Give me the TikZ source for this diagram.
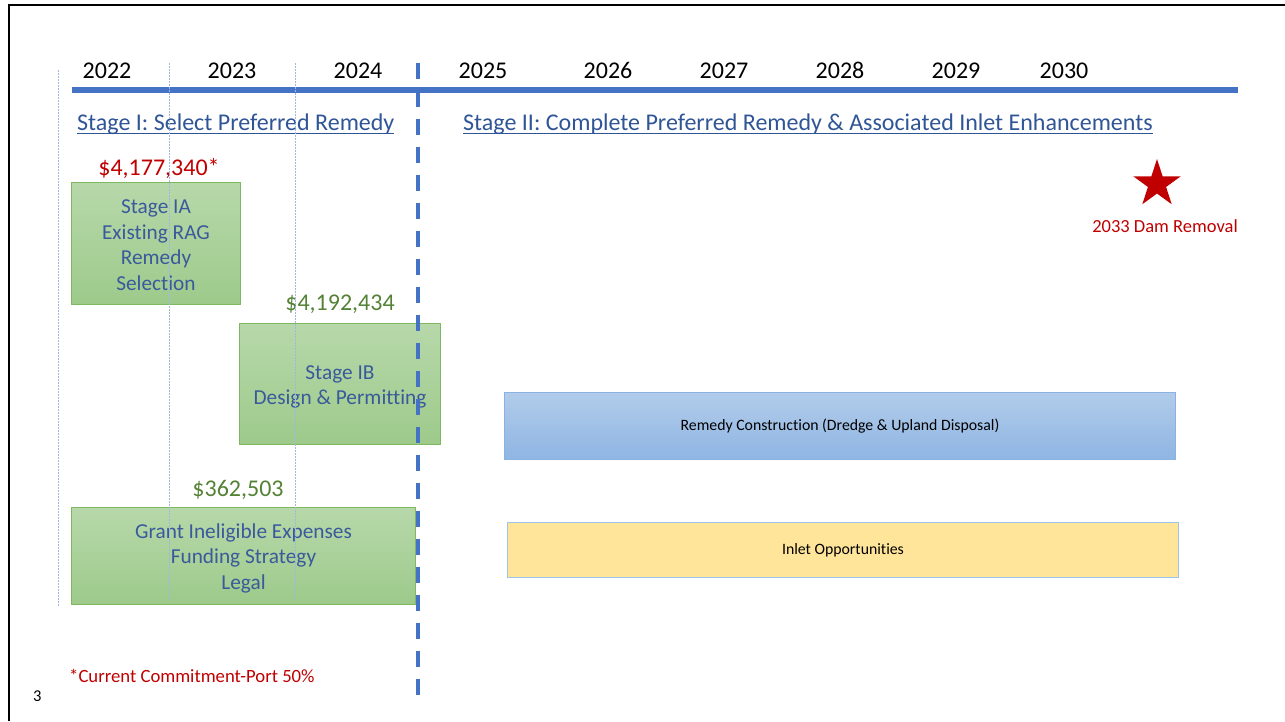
\documentclass[tikz,border=0pt]{standalone}
\usepackage{fontspec}
\setmainfont[Ligatures={NoCommon}]{Carlito}
\usetikzlibrary{shapes.geometric}
\definecolor{tblue}{HTML}{4472C4}
\definecolor{ttitle}{HTML}{2F5597}
\definecolor{tbox}{HTML}{3A5A9C}
\definecolor{tgreen}{HTML}{548235}
\definecolor{tred}{HTML}{C00000}
\definecolor{gtop}{HTML}{B7D8AA}
\definecolor{gbot}{HTML}{9DCA8B}
\definecolor{gedge}{HTML}{80B862}
\definecolor{btop}{HTML}{B1CCEA}
\definecolor{bbot}{HTML}{8FB5E3}
\definecolor{bedge}{HTML}{8AB2E0}
\definecolor{yfill}{HTML}{FFE599}
\definecolor{yedge}{HTML}{9DC3E6}
\definecolor{dotc}{HTML}{9FB7E2}
\tikzset{
  year/.style={anchor=base, inner sep=0, font=\fontsize{24}{28}\selectfont},
  stagetitle/.style={anchor=base west, inner sep=0, text=ttitle, font=\fontsize{24}{28}\selectfont},
  amount/.style={anchor=base, inner sep=0, font=\fontsize{24}{28}\selectfont},
  greenbox/.style={anchor=north west, draw=gedge, line width=1pt, top color=gtop, bottom color=gbot,
     text=tbox, align=center, inner sep=0, font=\fontsize{21.3}{25.5}\selectfont},
  bluebox/.style={anchor=north west, draw=bedge, line width=1pt, top color=btop, bottom color=bbot,
     text=black, align=center, inner sep=0, font=\fontsize{15.8}{18}\selectfont},
  yellowbox/.style={anchor=north west, draw=yedge, line width=1pt, fill=yfill,
     text=black, align=center, inner sep=0, font=\fontsize{15.8}{18}\selectfont},
  gridline/.style={draw=dotc, line width=0.8pt, dash pattern=on 2pt off 1pt},
  stagediv/.style={draw=tblue, line width=4pt, dash pattern=on 16pt off 12pt},
}
\begin{document}
\begin{tikzpicture}[x=1pt,y=-1pt]
\useasboundingbox (0,0) rectangle (1285,721);
% frame
\draw[black, line width=2.6pt] (9,721) -- (9,5) -- (1285,5);

% timeline bar
\coordinate (barL) at (72,90);
\coordinate (barR) at (1238,90);
\draw[tblue, line width=6pt] (barL) -- (barR);

% years
\node[year] (y2022) at (107,78) {2022};
\node[year] (y2023) at (232,78) {2023};
\node[year] (y2024) at (358,78) {2024};
\node[year] (y2025) at (483,78) {2025};
\node[year] (y2026) at (608,78) {2026};
\node[year] (y2027) at (724,78) {2027};
\node[year] (y2028) at (840,78) {2028};
\node[year] (y2029) at (956,78) {2029};
\node[year] (y2030) at (1064,78) {2030};

% stage titles
\node[stagetitle] (st1) at (77,130) {Stage I: Select Preferred Remedy};
\node[stagetitle] (st2) at (463,130) {Stage II: Complete Preferred Remedy \& Associated Inlet Enhancements};
\draw[ttitle, line width=1.8pt] ([yshift=-3.5pt]st1.base west) -- ([yshift=-3.5pt]st1.base east);
\draw[ttitle, line width=1.8pt] ([yshift=-3.5pt]st2.base west) -- ([yshift=-3.5pt]st2.base east);

% boxes
\node[greenbox, minimum width=169pt, minimum height=122pt] (ia) at (71,182)
  {\rule{0pt}{17pt}Stage IA\\Existing RAG\\Remedy\\Selection};
\node[greenbox, minimum width=201pt, minimum height=121pt] (ib) at (239,323)
  {\rule{0pt}{20pt}Stage IB\\Design \& Permitting};
\node[greenbox, minimum width=344pt, minimum height=97pt] (gr) at (71,507)
  {\rule{0pt}{19pt}Grant Ineligible Expenses\\Funding Strategy\\Legal};
\node[bluebox, minimum width=671pt, minimum height=67pt] (rc) at (504,392)
  {Remedy Construction (Dredge \& Upland Disposal)};
\node[yellowbox, minimum width=671pt, minimum height=55pt] (io) at (507,522)
  {Inlet Opportunities};

% amounts
\node[amount, text=tred] (a1) at (159,175) {\$4,177,340*};
\node[amount, text=tgreen] (a2) at (340,310) {\$4,192,434};
\node[amount, text=tgreen] (a3) at (238,496) {\$362,503};

% grid lines
\coordinate (g0t) at (58,70);   \coordinate (g0b) at (58,606);
\coordinate (g1t) at (169,63);  \coordinate (g1b) at (169,600);
\coordinate (g2t) at (295,63);  \coordinate (g2b) at (295,600);
\draw[gridline] (g0t) -- (g0b);
\draw[gridline] (g1t) -- (g1b);
\draw[gridline] (g2t) -- (g2b);

% stage divider
\coordinate (dvt) at (418,63);
\coordinate (dvb) at (418,695);
\draw[stagediv] (dvt) -- (dvb);

% star and label
\node[star, star points=5, star point ratio=2.618, fill=tred, draw=none, inner sep=0,
      minimum size=50pt] (star) at (1157,184) {};
\node[anchor=base, inner sep=0, text=tred, font=\fontsize{18.5}{22}\selectfont] (dam) at (1165,232) {2033 Dam Removal};

% footnotes
\node[anchor=base west, inner sep=0, text=tred, font=\fontsize{18.7}{22}\selectfont] (fn) at (69,682) {*Current Commitment-Port 50\%};
\node[anchor=base west, inner sep=0, font=\fontsize{16.5}{20}\selectfont] (pg) at (33,701) {3};
\end{tikzpicture}
\end{document}
